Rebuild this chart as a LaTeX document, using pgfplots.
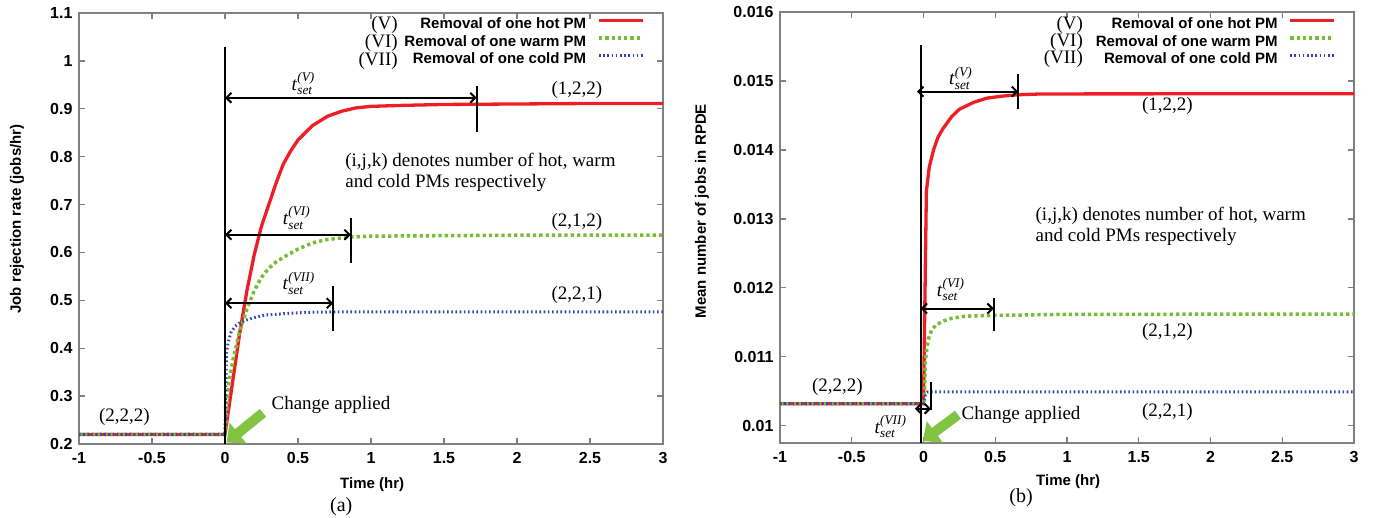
\documentclass[border=0pt]{standalone}
\usepackage{fontspec}
\setmainfont{Liberation Serif}
\setsansfont{Liberation Sans}
\usepackage{amsmath}
\usepackage{pgfplots}
\pgfplotsset{compat=1.18}
\usetikzlibrary{arrows.meta}
\definecolor{redc}{RGB}{238,30,38}
\definecolor{greenc}{RGB}{118,188,52}
\definecolor{bluec}{RGB}{52,72,172}
\definecolor{arrgreen}{RGB}{130,196,66}
\newcommand{\tset}[1]{\textit{t}$_{\textit{set}}^{\textit{(#1)}}$}
\newcommand{\annfont}{\rmfamily\fontsize{19}{21.5}\selectfont}
\newcommand{\sfb}{\sffamily\bfseries\fontsize{15}{18}\selectfont}
\newcommand{\sft}{\sffamily\bfseries\fontsize{16}{18}\selectfont}
\tikzset{
  redline/.style={draw=redc, line width=3.3pt},
  greenline/.style={draw=greenc, line width=3.5pt, dash pattern=on 3.3pt off 3pt},
  blueline/.style={draw=bluec, line width=3pt, dash pattern=on 1.6pt off 2.6pt},
  dimarrow/.style={line width=2pt, {Straight Barb[length=5pt,width=10pt]}-{Straight Barb[length=5pt,width=10pt]}},
  tickmark/.style={line width=2pt},
  bigarrow/.style={draw=arrgreen, line width=10pt, -{Triangle[length=15pt,width=26pt]}},
}
\pgfplotsset{
  common/.style={
    scale only axis,
    anchor=south west,
    xmin=-1, xmax=3,
    xtick={-1,-0.5,0,0.5,1,1.5,2,2.5,3},
    xticklabels={-1,-0.5,0,0.5,1,1.5,2,2.5,3},
    scaled x ticks=false, scaled y ticks=false,
    tick label style={font=\sft},
    xticklabel style={yshift=-5pt},
    yticklabel style={xshift=-3pt},
    axis line style={draw=gray, line width=1.3pt},
    major tick style={draw=gray, line width=1.3pt},
    major tick length=6pt,
    tick align=inside,
    clip=false,
    legend plot pos=right,
    legend cell align=right,
    legend image code/.code={\draw[##1] (0pt,4.5pt) -- (44pt,4.5pt);},
    legend style={draw=none, fill=none, inner sep=0pt, font=\sfb,
      nodes={inner sep=0pt, text height=11pt, text depth=3.5pt},
      column sep=11pt, row sep=3pt},
    label style={font=\sfb},
  }
}
\begin{document}
\begin{tikzpicture}
\useasboundingbox (0,0) rectangle (1373pt,518pt);
% ---------------- (a) ----------------
\begin{axis}[common,
  at={(79pt,74pt)}, width=584pt, height=431pt,
  ymin=0.2, ymax=1.1,
  ytick={0.2,0.3,0.4,0.5,0.6,0.7,0.8,0.9,1,1.1},
  yticklabels={0.2,0.3,0.4,0.5,0.6,0.7,0.8,0.9,1,1.1},
  xlabel={Time (hr)}, ylabel={Job rejection rate (jobs/hr)},
  xlabel style={at={(axis description cs:0.502,-0.095)}, anchor=center},
  ylabel style={at={(axis description cs:-0.106,0.522)}, anchor=center},
  legend style={at={(rel axis cs:0.969,0.989)}, anchor=north east},
]
\addplot[redline] coordinates {(-1,0.22) (0,0.22) (0.05,0.325) (0.1,0.43) (0.15,0.52) (0.2,0.595) (0.25,0.655) (0.3,0.70) (0.35,0.745) (0.4,0.785) (0.45,0.812) (0.5,0.835) (0.6,0.865) (0.7,0.884) (0.8,0.895) (0.9,0.902) (1.0,0.905) (1.2,0.907) (1.5,0.909) (2,0.910) (2.5,0.911) (3,0.911)};
\addlegendentry{Removal of one hot PM}
\addplot[greenline] coordinates {(-1,0.22) (0,0.22) (0.025,0.325) (0.055,0.376) (0.1,0.435) (0.15,0.482) (0.2,0.52) (0.25,0.548) (0.3,0.567) (0.35,0.58) (0.4,0.59) (0.5,0.607) (0.6,0.62) (0.7,0.627) (0.85,0.632) (1,0.634) (1.5,0.635) (2,0.636) (3,0.636)};
\addlegendentry{Removal of one warm PM}
\addplot[blueline] coordinates {(-1,0.22) (0,0.22) (0.01,0.39) (0.02,0.41) (0.04,0.432) (0.07,0.446) (0.115,0.456) (0.2,0.464) (0.27,0.469) (0.4,0.472) (0.57,0.475) (0.8,0.476) (3,0.476)};
\addlegendentry{Removal of one cold PM}
% legend roman labels
\node[anchor=east, font=\annfont, inner sep=0pt] at (rel axis cs:0.546,0.972) {(V)};
\node[anchor=east, font=\annfont, inner sep=0pt] at (rel axis cs:0.546,0.930) {(VI)};
\node[anchor=east, font=\annfont, inner sep=0pt] at (rel axis cs:0.546,0.889) {(VII)};
% annotations
\draw[line width=2pt] (axis cs:0,0.2) -- (axis cs:0,1.03);
\draw[dimarrow] (axis cs:0,0.923) -- (axis cs:1.724,0.923);
\draw[tickmark] (axis cs:1.724,0.852) -- (axis cs:1.724,0.948);
\node[font=\annfont] at (axis cs:0.536,0.953) {\tset{V}};
\draw[dimarrow] (axis cs:0,0.637) -- (axis cs:0.862,0.637);
\draw[tickmark] (axis cs:0.862,0.578) -- (axis cs:0.862,0.672);
\node[font=\annfont] at (axis cs:0.49,0.672) {\tset{VI}};
\draw[dimarrow] (axis cs:0,0.494) -- (axis cs:0.741,0.494);
\draw[tickmark] (axis cs:0.741,0.435) -- (axis cs:0.741,0.53);
\node[font=\annfont] at (axis cs:0.505,0.536) {\tset{VII}};
\node[font=\annfont] at (axis cs:2.41,0.939) {(1,2,2)};
\node[font=\annfont] at (axis cs:2.41,0.664) {(2,1,2)};
\node[font=\annfont] at (axis cs:2.41,0.511) {(2,2,1)};
\node[font=\annfont] at (axis cs:-0.689,0.257) {(2,2,2)};
\node[font=\annfont, anchor=west, align=left, inner sep=0pt] at (axis cs:0.823,0.767) {(i,j,k) denotes number of hot, warm\\and cold PMs respectively};
\node[font=\annfont, anchor=west, inner sep=0pt] at (axis cs:0.318,0.281) {Change applied};
\draw[bigarrow] (axis cs:0.26,0.265) -- (axis cs:0.01,0.203);
\node[font=\rmfamily\fontsize{20}{22}\selectfont] at (axis description cs:0.449,-0.146) {(a)};
\end{axis}
% ---------------- (b) ----------------
\begin{axis}[common,
  at={(780pt,75pt)}, width=574pt, height=431pt,
  ymin=0.00975, ymax=0.016,
  ytick={0.01,0.011,0.012,0.013,0.014,0.015,0.016},
  yticklabels={0.01,0.011,0.012,0.013,0.014,0.015,0.016},
  xlabel={Time (hr)}, ylabel={Mean number of jobs in RPDE},
  xlabel style={at={(axis description cs:0.502,-0.09)}, anchor=center},
  ylabel style={at={(axis description cs:-0.136,0.538)}, anchor=center},
  legend style={at={(rel axis cs:0.969,0.987)}, anchor=north east},
]
\addplot[redline] coordinates {(-1,0.01032) (0,0.01032) (0.02,0.0134) (0.04,0.01375) (0.07,0.0140) (0.1,0.01418) (0.133,0.0143) (0.195,0.01448) (0.25,0.01459) (0.29,0.01463) (0.35,0.01469) (0.44,0.01475) (0.55,0.01478) (0.66,0.0148) (0.8,0.01481) (1,0.014812) (3,0.014815)};
\addlegendentry{Removal of one hot PM}
\addplot[greenline] coordinates {(-1,0.01032) (0,0.01032) (0.005,0.0104) (0.014,0.01096) (0.025,0.01115) (0.04,0.0113) (0.06,0.0114) (0.09,0.011464) (0.14,0.01152) (0.2,0.01156) (0.3,0.01159) (0.5,0.0116) (0.8,0.01161) (1,0.011615) (3,0.01162)};
\addlegendentry{Removal of one warm PM}
\addplot[blueline] coordinates {(-1,0.01032) (0,0.01032) (0.005,0.01038) (0.01,0.01043) (0.017,0.01047) (0.03,0.01049) (3,0.01049)};
\addlegendentry{Removal of one cold PM}
\node[anchor=east, font=\annfont, inner sep=0pt] at (rel axis cs:0.528,0.970) {(V)};
\node[anchor=east, font=\annfont, inner sep=0pt] at (rel axis cs:0.528,0.930) {(VI)};
\node[anchor=east, font=\annfont, inner sep=0pt] at (rel axis cs:0.528,0.891) {(VII)};
\draw[line width=2pt] (axis cs:-0.018,0.00975) -- (axis cs:-0.018,0.01552);
\draw[dimarrow] (axis cs:-0.045,0.014845) -- (axis cs:0.66,0.014845);
\draw[tickmark] (axis cs:0.66,0.0146) -- (axis cs:0.66,0.0151);
\node[font=\annfont] at (axis cs:0.26,0.01504) {\tset{V}};
\draw[dimarrow] (axis cs:-0.02,0.0117) -- (axis cs:0.49,0.0117);
\draw[tickmark] (axis cs:0.49,0.01137) -- (axis cs:0.49,0.011855);
\node[font=\annfont] at (axis cs:0.19,0.01197) {\tset{VI}};
\draw[dimarrow] (axis cs:-0.06,0.010246) -- (axis cs:0.052,0.010246);
\draw[tickmark] (axis cs:0.052,0.01023) -- (axis cs:0.052,0.01064);
\node[font=\annfont] at (axis cs:-0.23,0.009986) {\tset{VII}};
\node[font=\annfont] at (axis cs:1.70,0.01464) {(1,2,2)};
\node[font=\annfont] at (axis cs:1.70,0.01136) {(2,1,2)};
\node[font=\annfont] at (axis cs:1.70,0.0102) {(2,2,1)};
\node[font=\annfont] at (axis cs:-0.6,0.01057) {(2,2,2)};
\node[font=\annfont, anchor=west, align=left, inner sep=0pt] at (axis cs:0.78,0.01289) {(i,j,k) denotes number of hot, warm\\and cold PMs respectively};
\node[font=\annfont, anchor=west, inner sep=0pt] at (axis cs:0.265,0.01016) {Change applied};
\draw[bigarrow] (axis cs:0.24,0.01016) -- (axis cs:-0.005,0.00978);
\node[font=\rmfamily\fontsize{20}{22}\selectfont] at (axis description cs:0.42,-0.128) {(b)};
\end{axis}
\end{tikzpicture}
\end{document}
